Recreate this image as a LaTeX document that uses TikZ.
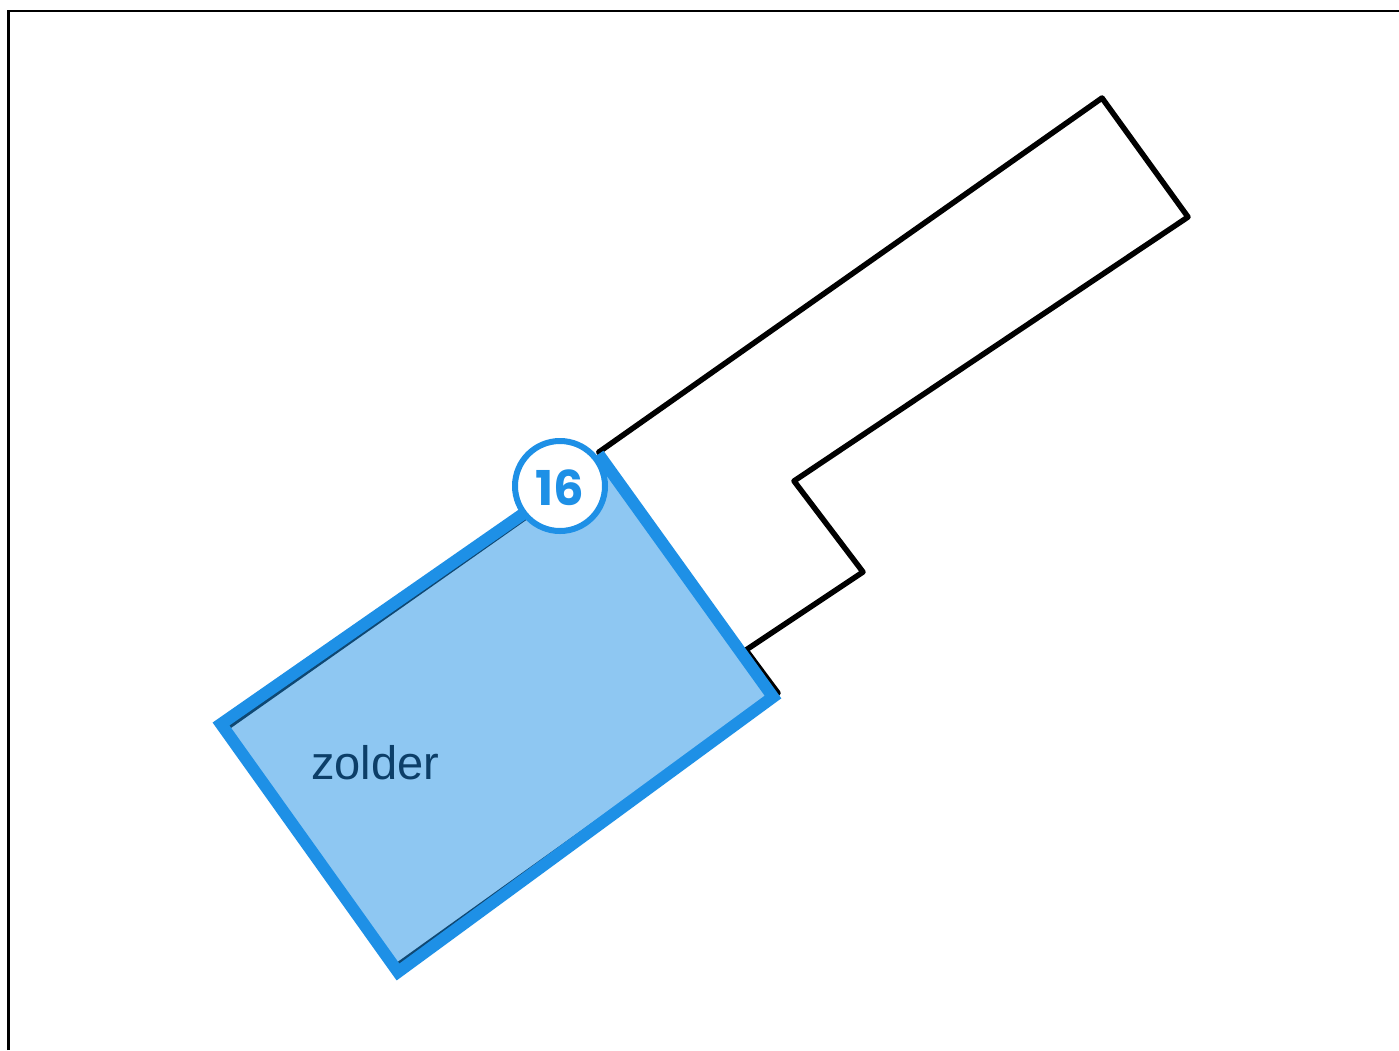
\documentclass[tikz,border=0pt]{standalone}
\usepackage{fontspec}
\setmainfont{Liberation Sans}
\newfontfamily\badgefont{Poppins}
\definecolor{zoneblue}{RGB}{30,144,230}
\definecolor{labelblue}{RGB}{12,62,104}
\tikzset{
  wall/.style={draw=black,line width=5.5pt,line join=round,line cap=round},
  zonefill/.style={fill=zoneblue,fill opacity=0.5,draw=none},
  zoneedge/.style={draw=zoneblue,line width=12pt,line join=miter},
  frameline/.style={draw=black,line width=2.8pt},
}
\begin{document}
\begin{tikzpicture}[x=1pt,y=-1pt]
\useasboundingbox (0,0) rectangle (1399,1050);
\fill[white] (0,0) rectangle (1399,1050);
\draw[frameline] (8.5,1050) -- (8.5,11) -- (1399,11);
\draw[wall] (599,452) -- (1102,98) -- (1188,217) -- (794,481) -- (863,572) -- (746,650);
\draw[wall] (599,452) -- (606,462);
\draw[wall] (746,650) -- (778,693) -- (398,965);
\draw[wall] (229,726) -- (540,507);
\fill[zonefill] (221,724) -- (602,459) -- (773,697) -- (398,972) -- cycle;
\draw[zoneedge] (221,724) -- (602,459) -- (773,697) -- (398,972) -- cycle;
\node[circle,draw=zoneblue,fill=white,line width=6pt,minimum size=90pt,inner sep=0pt] (badge) at (560,486) {};
\node[text=zoneblue,font=\badgefont\bfseries\fontsize{48}{48}\selectfont,inner sep=0pt] (num) at (560,488) {16};
\node[text=labelblue,font=\fontsize{47}{47}\selectfont,anchor=base west,inner sep=0pt] (lbl) at (311,779) {zolder};
\end{tikzpicture}
\end{document}
